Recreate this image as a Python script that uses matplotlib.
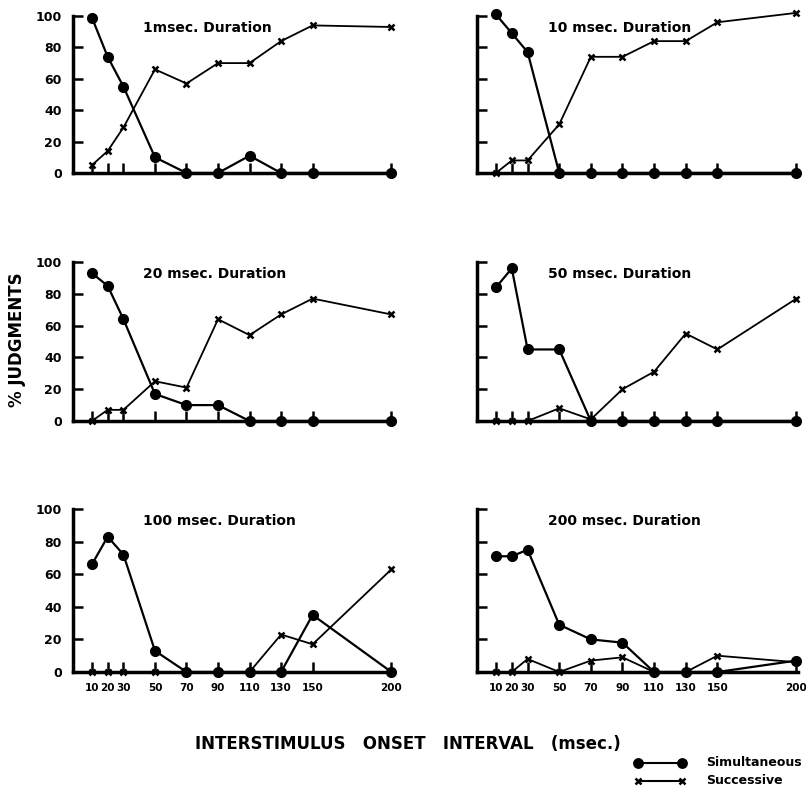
import numpy as np
import matplotlib
matplotlib.use("Agg")
import matplotlib.pyplot as plt
from matplotlib.lines import Line2D

# interstimulus onset intervals (msec)
isi = [10, 20, 30, 50, 70, 90, 110, 130, 150, 200]

titles = ["1msec. Duration", "10 msec. Duration", "20 msec. Duration",
          "50 msec. Duration", "100 msec. Duration", "200 msec. Duration"]

# % simultaneous judgments per duration
simul_1 = [99, 74, 55, 10, 0, 0, 11, 0, 0, 0]
simul_10 = [101, 89, 77, 0, 0, 0, 0, 0, 0, 0]
simul_20 = [93, 85, 64, 17, 10, 10, 0, 0, 0, 0]
simul_50 = [84, 96, 45, 45, 0, 0, 0, 0, 0, 0]
simul_100 = [66, 83, 72, 13, 0, 0, 0, 0, 35, 0]
simul_200 = [71, 71, 75, 29, 20, 18, 0, 0, 0, 7]

# % successive judgments per duration
succ_1 = [5, 14, 29, 66, 57, 70, 70, 84, 94, 93]
succ_10 = [0, 8, 8, 31, 74, 74, 84, 84, 96, 102]
succ_20 = [0, 7, 7, 25, 21, 64, 54, 67, 77, 67]
succ_50 = [0, 0, 0, 8, 1, 20, 31, 55, 45, 77]
succ_100 = [0, 0, 0, 0, 0, 0, 0, 23, 17, 63]
succ_200 = [0, 0, 8, 0, 7, 9, 0, 0, 10, 6]

simul = [simul_1, simul_10, simul_20, simul_50, simul_100, simul_200]
succ = [succ_1, succ_10, succ_20, succ_50, succ_100, succ_200]

W, H = 806, 799
fig = plt.figure(figsize=(W / 100, H / 100), dpi=100)

# axes boxes in pixels: (left, right, top, bottom)
cols = [(73, 393), (477, 798)]
rows = [(16, 173), (262, 421), (509, 672)]

for i in range(6):
    r, c = divmod(i, 2)
    x0, x1 = cols[c]
    y0, y1 = rows[r]
    ax = fig.add_axes([x0 / W, 1 - y1 / H, (x1 - x0) / W, (y1 - y0) / H])
    ax.plot(isi, simul[i], color="black", lw=1.6, marker="o", ms=7,
            clip_on=False, zorder=3)
    ax.plot(isi, succ[i], color="black", lw=1.3, marker="x", ms=5,
            mew=1.8, clip_on=False, zorder=3)
    ax.set_xlim(-2, 201)
    ax.set_ylim(0, 100)
    for s in ["top", "right"]:
        ax.spines[s].set_visible(False)
    for s in ["left", "bottom"]:
        ax.spines[s].set_linewidth(2.5)
    ax.set_xticks(isi)
    ax.set_yticks([0, 20, 40, 60, 80, 100])
    ax.tick_params(direction="in", length=7, width=1.8)
    if r == 2:
        ax.set_xticklabels([str(v) for v in isi], fontsize=7.5, fontweight="bold")
    else:
        ax.set_xticklabels([])
    if c == 0:
        ax.set_yticklabels(["0", "20", "40", "60", "80", "100"], fontsize=9,
                           fontweight="bold")
    else:
        ax.set_yticklabels([])
    ax.tick_params(axis="x", pad=8)
    ax.tick_params(axis="y", pad=8)
    ax.text(0.22, 0.97, titles[i], transform=ax.transAxes, fontsize=10,
            fontweight="bold", ha="left", va="top")

fig.text(17 / W, 1 - 340 / H, "% JUDGMENTS", rotation=90, fontsize=12,
         fontweight="bold", ha="center", va="center")
fig.text(408 / W, 1 - 744 / H, "INTERSTIMULUS   ONSET   INTERVAL   (msec.)",
         fontsize=12, fontweight="bold", ha="center", va="center")

# legend drawn by hand in figure coordinates
for k, (mk, label) in enumerate([("o", "Simultaneous"), ("x", "Successive")]):
    yy = 1 - (763 + 18 * k) / H
    fig.add_artist(Line2D([638 / W, 682 / W], [yy, yy], color="black", lw=1.5,
                          marker=mk, ms=6 if mk == "o" else 5, mew=1.8,
                          transform=fig.transFigure))
    fig.text(706 / W, yy, label, fontsize=9, fontweight="bold", va="center")

fig.savefig("out.png", dpi=100)
